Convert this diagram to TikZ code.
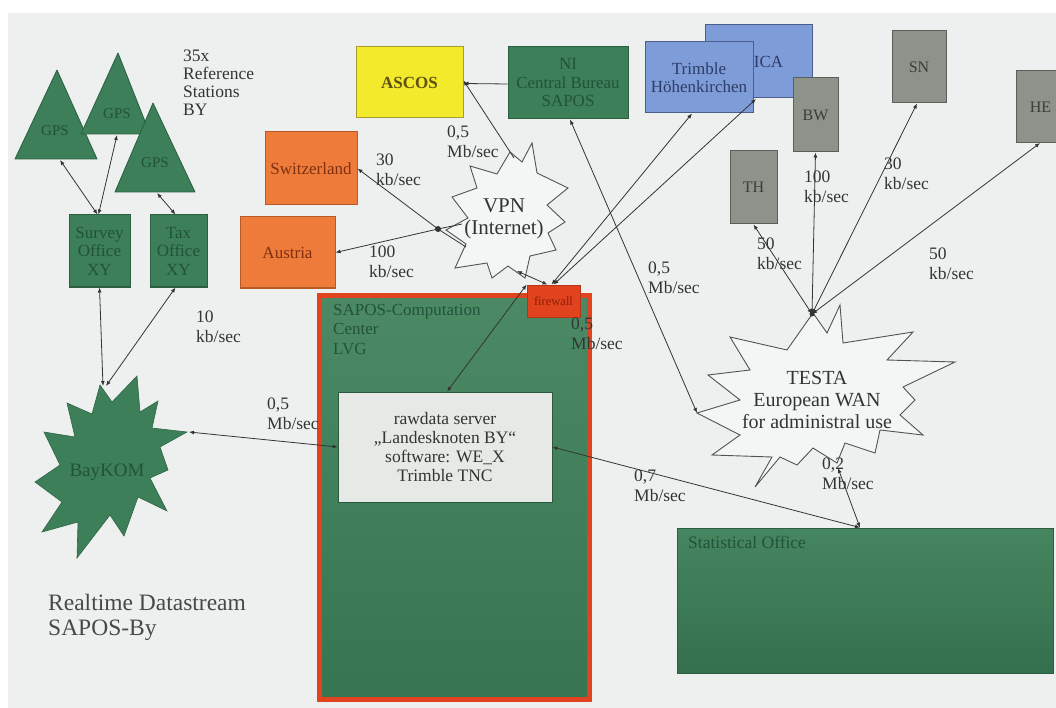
\documentclass[tikz,border=0pt]{standalone}
\usepackage{fontspec}
\setmainfont{Liberation Serif}
\usetikzlibrary{arrows.meta}
\definecolor{paper}{HTML}{EDF0EE}
\definecolor{gbox}{HTML}{3C7F58}
\definecolor{gboxline}{HTML}{2C5F41}
\definecolor{gtext}{HTML}{22533A}
\definecolor{obox}{HTML}{EE7B3A}
\definecolor{oboxline}{HTML}{B65A26}
\definecolor{otext}{HTML}{7E3010}
\definecolor{ybox}{HTML}{F3EA2C}
\definecolor{yboxline}{HTML}{A89C2A}
\definecolor{ytext}{HTML}{5E5212}
\definecolor{bbox}{HTML}{7D9CD8}
\definecolor{bboxline}{HTML}{4A5E8E}
\definecolor{btext}{HTML}{2E3D68}
\definecolor{grbox}{HTML}{8D928A}
\definecolor{grboxline}{HTML}{5B5F59}
\definecolor{grtext}{HTML}{3A3D39}
\definecolor{redframe}{HTML}{E0431E}
\definecolor{fwtext}{HTML}{8E1E08}
\definecolor{srvfill}{HTML}{E6E9E6}
\definecolor{ink}{HTML}{333533}
\begin{document}
\begin{tikzpicture}[x=1pt,y=-1pt,
  box/.style={rectangle, inner sep=1pt, align=center, line width=1pt, font=\fontsize{17}{18.5}\selectfont},
  greenbox/.style={box, fill=gbox, draw=gboxline, text=gtext},
  orangebox/.style={box, fill=obox, draw=oboxline, text=otext},
  yellowbox/.style={box, fill=ybox, draw=yboxline, text=ytext, font=\fontsize{17}{18.5}\selectfont\bfseries},
  bluebox/.style={box, fill=bbox, draw=bboxline, text=btext},
  graybox/.style={box, fill=grbox, draw=grboxline, text=grtext, font=\fontsize{16}{18}\selectfont},
  gpsshape/.style={fill=gbox, draw=gboxline, line width=0.8pt, line join=round},
  gpstext/.style={text=gtext, font=\fontsize{15}{16}\selectfont, inner sep=0pt},
  burst/.style={draw=ink!85, line width=0.9pt, line join=miter},
  link/.style={draw=ink, line width=0.8pt, {Latex[length=5pt,width=4pt]}-{Latex[length=5pt,width=4pt]}},
  halflink/.style={draw=ink, line width=0.8pt, {Latex[length=5pt,width=4pt]}-},
  plainlink/.style={draw=ink, line width=0.8pt},
  rate/.style={anchor=north west, align=left, inner sep=0pt, text=ink, font=\fontsize{17.5}{20}\selectfont},
  hub/.style={circle, fill=ink, inner sep=0pt, minimum size=5pt}
]
\useasboundingbox (0,0) rectangle (1056,708);
\fill[white] (0,0) rectangle (1056,708);
\fill[paper] (8,13) rectangle (1056,708);

% ---------- reference stations ----------
\filldraw[gpsshape] (57,70) -- (97,159) -- (15,159) -- cycle;
\node[gpstext] (gps1) at (55,131) {GPS};
\filldraw[gpsshape] (118,53) -- (150,134) -- (81,134) -- cycle;
\node[gpstext] (gps2) at (117,114) {GPS};
\filldraw[gpsshape] (153,103) -- (195,192) -- (115,192) -- cycle;
\node[gpstext] (gps3) at (155,163) {GPS};
\coordinate (g1b) at (60,160);
\coordinate (g2b) at (117,135);
\coordinate (g3b) at (157,193);

\node[anchor=north west, align=left, inner sep=0pt, text=ink, font=\fontsize{17.5}{17.8}\selectfont] (stations) at (183,50) {35x\\Reference\\Stations\\BY};

\node[greenbox, minimum width=61pt, minimum height=72pt, font=\fontsize{17}{18.5}\selectfont] (survey) at (99.5,251) {Survey\\Office\\XY};
\node[greenbox, minimum width=57pt, minimum height=72pt, font=\fontsize{17}{18.5}\selectfont] (tax) at (178.5,251) {Tax\\Office\\XY};

% ---------- BayKOM ----------
\filldraw[fill=gbox, draw=gbox!80!black, line width=0.6pt, line join=miter]
  (100,385) -- (112,402) -- (137,376) -- (140,412) -- (158,401) -- (152,428) --
  (187,432) -- (160,447) -- (168,470) -- (150,478) -- (167,511) -- (138,497) --
  (124,536) -- (110,515) -- (77,558) -- (78,522) -- (42,532) -- (62,502) --
  (35,482) -- (60,465) -- (44,432) -- (75,437) -- (67,403) -- (92,414) -- cycle;
\node[text=gtext, font=\fontsize{19}{20}\selectfont, inner sep=0pt] (baykom) at (107,472) {BayKOM};
\coordinate (baytop) at (103,386);
\coordinate (baytop2) at (106,386);
\coordinate (bayright) at (189,432);

\node[anchor=north west, align=left, inner sep=0pt, text=ink!90, font=\fontsize{23.5}{24.5}\selectfont] (title) at (48,594) {Realtime Datastream\\SAPOS-By};

% ---------- neighbours and partners ----------
\node[orangebox, minimum width=92pt, minimum height=73pt] (swiss) at (311,168.5) {Switzerland};
\node[orangebox, minimum width=95pt, minimum height=71pt] (austria) at (287.5,252.5) {Austria};
\node[yellowbox, minimum width=107pt, minimum height=71pt] (ascos) at (409.5,82.5) {ASCOS};
\node[greenbox, minimum width=120pt, minimum height=72pt] (ni) at (568,83) {NI\\Central Bureau\\SAPOS};
\node[bluebox, minimum width=107pt, minimum height=73pt] (ica) at (758.5,61.5) {\hspace*{20pt}ICA};
\node[bluebox, minimum width=108pt, minimum height=71pt] (trimble) at (699,77.5) {Trimble\\Höhenkirchen};
\coordinate (icab) at (756,99);

% ---------- federal states ----------
\node[graybox, minimum width=45pt, minimum height=74pt] (bw) at (815.5,115) {BW};
\node[graybox, minimum width=54pt, minimum height=72pt] (sn) at (919,67) {SN};
\node[graybox, minimum width=40pt, minimum height=72pt] (he) at (1036.5,107) {\hspace*{8pt}HE};
\node[graybox, minimum width=47pt, minimum height=73pt] (th) at (753.5,187.5) {TH};
\coordinate (heb) at (1040,143);

% ---------- computation center ----------
\node[rectangle, draw=redframe, line width=5pt, top color=gbox!92!white, bottom color=gbox!92!black, minimum width=270pt, minimum height=404pt] (sapos) at (454.5,497.5) {};
\node[anchor=north west, align=left, inner sep=0pt, text=gtext, font=\fontsize{17}{19.5}\selectfont] (saposlabel) at (333,304) {SAPOS-Computation\\Center\\LVG};
\node[rectangle, fill=srvfill, draw=gbox!70!black, line width=0.6pt, minimum width=214pt, minimum height=110pt, align=center, text=ink, font=\fontsize{17.5}{19}\selectfont] (server) at (445,447) {rawdata server\\„Landesknoten BY“\\software: WE\_X\\Trimble TNC};
\node[rectangle, fill=redframe, draw=redframe!80!black, line width=0.8pt, minimum width=53pt, minimum height=32pt, text=fwtext, font=\fontsize{12.5}{13}\selectfont] (firewall) at (553.5,301) {firewall};

% ---------- statistical office ----------
\node[rectangle, top color=gbox!95!white, bottom color=gbox!88!black, draw=gboxline, line width=0.8pt, minimum width=376pt, minimum height=145pt] (stat) at (865,600.5) {};
\node[anchor=north west, inner sep=0pt, text=gtext, font=\fontsize{17.5}{19}\selectfont] (statlabel) at (688,536) {Statistical Office};

% ---------- VPN ----------
\filldraw[burst, fill=paper!60!white]
  (532,143) -- (537,173) -- (568,188) -- (547,205) -- (565,222) -- (548,233) --
  (556,250) -- (530,256) -- (525,278) -- (508,266) -- (492,278) -- (487,263) --
  (455,268) -- (466,244) -- (446,230) -- (468,218) -- (452,197) -- (477,188) --
  (470,166) -- (497,174) -- (510,152) -- (522,162) -- cycle;
\node[align=center, text=ink, font=\fontsize{21}{22}\selectfont, inner sep=0pt] (vpn) at (504,219) {VPN\\(Internet)};
\coordinate (vpntop) at (514,158);
\coordinate (vpnbot) at (517,271);
\coordinate (vpnsw) at (466,247);
\coordinate (vpnw) at (462,224);

% ---------- TESTA ----------
\filldraw[burst, fill=paper!60!white]
  (787,350) -- (813,313) -- (827,333) -- (840,305) -- (843,343) -- (913,332) --
  (887,360) -- (955,362) -- (903,387) -- (915,400) -- (900,415) -- (923,435) --
  (880,430) -- (875,453) -- (845,443) -- (837,463) -- (813,448) -- (797,465) --
  (780,457) -- (755,487) -- (772,457) -- (712,455) -- (740,435) -- (697,413) --
  (740,400) -- (708,375) -- (750,370) -- (730,337) -- cycle;
\node[align=center, text=ink, font=\fontsize{20}{22}\selectfont, inner sep=0pt] (testa) at (817,400) {TESTA\\European WAN\\for administral use};
\coordinate (testatop) at (812,314);
\coordinate (testaw) at (697,413);
\coordinate (testab) at (838,468);

% ---------- connections ----------
\draw[link] (g1b) -- ([xshift=-2pt]survey.north);
\draw[link] (g2b) -- ([xshift=-1pt]survey.north);
\draw[link] (g3b) -- ([xshift=-3pt]tax.north);
\draw[link] (survey.south) -- (baytop);
\draw[link] ([xshift=-3pt]tax.south) -- (baytop2);
\draw[link] (bayright) -- (server.west);

\coordinate (junction) at (438,229);
\draw[halflink] (swiss.east) -- (junction);
\draw[plainlink] (junction) -- (vpnsw);
\draw[halflink] (austria.east) -- (junction);
\draw[plainlink] (junction) -- (vpnw);
\node[hub, minimum size=6pt] (junctiondot) at (junction) {};

\draw[halflink] ([yshift=2pt]ascos.east) -- (vpntop);
\draw[halflink] ([yshift=-1pt]ascos.east) -- ([yshift=-1pt]ni.west);
\draw[link] (vpnbot) -- ([xshift=-6pt]firewall.north);
\draw[link] ([xshift=-2pt]firewall.north) -- ([xshift=-7pt]trimble.south);
\draw[link] (firewall.north) -- (icab);
\draw[link] (firewall.north west) -- ([xshift=2pt]server.north);
\draw[link] ([xshift=2pt]ni.south) -- (testaw);
\draw[link] (server.east) -- ([xshift=-5pt]stat.north);
\draw[link] (testab) -- ([xshift=-5pt]stat.north);

\draw[link] (testatop) -- (th.south);
\draw[link] (testatop) -- (bw.south);
\draw[link] (testatop) -- ([xshift=-2pt]sn.south);
\draw[link] (testatop) -- (heb);
\node[hub] (testadot) at (testatop) {};

% ---------- data rates ----------
\node[rate] (r1) at (196,311) {10\\kb/sec};
\node[rate] (r2) at (267,398) {0,5\\Mb/sec};
\node[rate] (r3) at (376,154) {30\\kb/sec};
\node[rate] (r4) at (369,246) {100\\kb/sec};
\node[rate] (r5) at (447,126) {0,5\\Mb/sec};
\node[rate] (r6) at (571,318) {0,5\\Mb/sec};
\node[rate] (r7) at (648,262) {0,5\\Mb/sec};
\node[rate] (r8) at (757,238) {50\\kb/sec};
\node[rate] (r9) at (804,171) {100\\kb/sec};
\node[rate] (r10) at (884,158) {30\\kb/sec};
\node[rate] (r11) at (929,248) {50\\kb/sec};
\node[rate] (r12) at (634,470) {0,7\\Mb/sec};
\node[rate] (r13) at (822,458) {0,2\\Mb/sec};
\end{tikzpicture}
\end{document}
